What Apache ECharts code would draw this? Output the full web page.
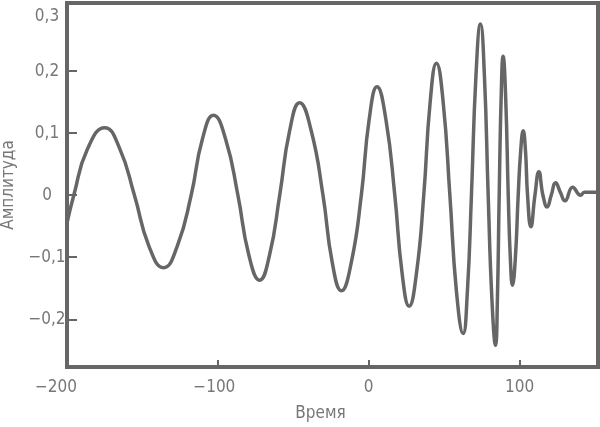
<!DOCTYPE html>
<html><head><meta charset="utf-8">
<script src="https://cdn.jsdelivr.net/npm/echarts@6/dist/echarts.min.js"></script>
<style>html,body{margin:0;padding:0;background:#fff}#c{width:600px;height:427px}</style>
</head><body><div id="c"></div>
<script>
const timeValues = [-200, -195.5, -186.5, -175, -165.2, -155.3, -145.7, -136, -126.9, -117.7, -110.3, -102.9, -94.8, -86.7, -79.5, -72.3, -65.7, -59, -52.4, -45.8, -38.1, -30.3, -24.2, -18.1, -11.5, -4.9, 0.3, 5.5, 11.4, 17.3, 22.1, 26.8, 31.7, 36.5, 40.7, 44.9, 49.4, 53.8, 58.2, 62.6, 65.4, 68.1, 71.1, 74.1, 76.7, 79.2, 81.7, 84.1, 85.3, 86.5, 87.8, 89.1, 90.8, 92.5, 93.9, 95.3, 97.2, 99.1, 100.8, 102.4, 103.9, 105.3, 107.5, 110.2, 112.8, 115.5, 118.3, 121, 123.9, 127, 130.1, 135.2, 140.5, 143, 152];
const amplitudeValues = [-0.045, 0, 0.074, 0.109, 0.076, 0, -0.082, -0.117, -0.082, 0, 0.090, 0.129, 0.090, 0, -0.096, -0.137, -0.096, 0, 0.104, 0.149, 0.104, 0, -0.108, -0.154, -0.108, 0, 0.122, 0.175, 0.122, 0, -0.125, -0.179, -0.125, 0, 0.149, 0.213, 0.149, 0, -0.156, -0.223, -0.156, 0, 0.193, 0.276, 0.193, 0, -0.169, -0.242, -0.169, 0, 0.157, 0.224, 0.157, 0, -0.102, -0.145, -0.102, 0, 0.073, 0.104, 0.073, 0, -0.051, 0, 0.038, 0, -0.019, 0, 0.020, 0.005, -0.009, 0.013, 0.0, 0.005, 0.005];
const xTickValues = [-200, -100, 0, 100];
const xTickMarks = [-100, 0, 100];
const yTickValues = [-0.2, -0.1, 0, 0.1, 0.2, 0.3];
const yTickMarks = [-0.2, -0.1, 0, 0.1, 0.2];
const xName = 'Время';
const yName = 'Амплитуда';

const FONT = '"DejaVu Sans Condensed", "Liberation Sans Narrow", sans-serif';
const INK = '#666666';
const TXT = '#777777';

function fmt(v) {
  if (Math.abs(v) < 1e-9) return '0';
  let s = Number.isInteger(v) ? String(Math.abs(v)) : Math.abs(v).toFixed(1).replace('.', ',');
  return (v < 0 ? '\u2212' : '') + s;
}

const data = timeValues.map((t, i) => [t, amplitudeValues[i]]);

const chart = echarts.init(document.getElementById('c'), null, {renderer: 'canvas'});
chart.setOption({
  animation: false,
  backgroundColor: '#ffffff',
  grid: {left: 67, right: 2, top: 3, bottom: 60, containLabel: false, outerBoundsMode: 'none',
         show: true, borderColor: INK, borderWidth: 4, backgroundColor: 'transparent'},
  xAxis: {
    type: 'value', min: -200, max: 152,
    name: xName, nameLocation: 'middle', nameGap: 38,
    nameTextStyle: {fontFamily: FONT, fontSize: 17, color: TXT, padding: [0, 24, 0, 0]},
    axisLine: {show: false, onZero: false},
    splitLine: {show: false},
    axisTick: {show: true, inside: true, length: 7, lineStyle: {color: INK, width: 2}, customValues: xTickMarks},
    axisLabel: {
      customValues: xTickValues, margin: 12, fontFamily: FONT, fontSize: 17, color: TXT,
      formatter: function (v) {
        if (v === -200) return '{a|' + fmt(v) + '}';
        if (v < 0) return '{b|' + fmt(v) + '}';
        return fmt(v);
      },
      rich: {
        a: {fontFamily: FONT, fontSize: 17, color: TXT, padding: [0, 22, 0, 0]},
        b: {fontFamily: FONT, fontSize: 17, color: TXT, padding: [0, 7, 0, 0]}
      }
    }
  },
  yAxis: {
    type: 'value', min: -0.277, max: 0.31,
    name: yName, nameLocation: 'middle', nameGap: 42,
    nameTextStyle: {fontFamily: FONT, fontSize: 17, color: TXT},
    axisLine: {show: false, onZero: false},
    splitLine: {show: false},
    axisTick: {show: true, inside: true, length: 10, lineStyle: {color: INK, width: 2}, customValues: yTickMarks},
    axisLabel: {
      customValues: yTickValues, margin: 20, align: 'center', fontFamily: FONT, fontSize: 17, color: TXT,
      formatter: function (v) { return v > 0.25 ? '{t|' + fmt(v) + '}' : fmt(v); },
      rich: {t: {fontFamily: FONT, fontSize: 17, color: TXT, padding: [14, 0, 0, 0]}}
    }
  },
  series: [{
    type: 'line', data: data, smooth: 0.5, showSymbol: false,
    lineStyle: {color: INK, width: 3.5}
  }]
});
</script></body></html>
